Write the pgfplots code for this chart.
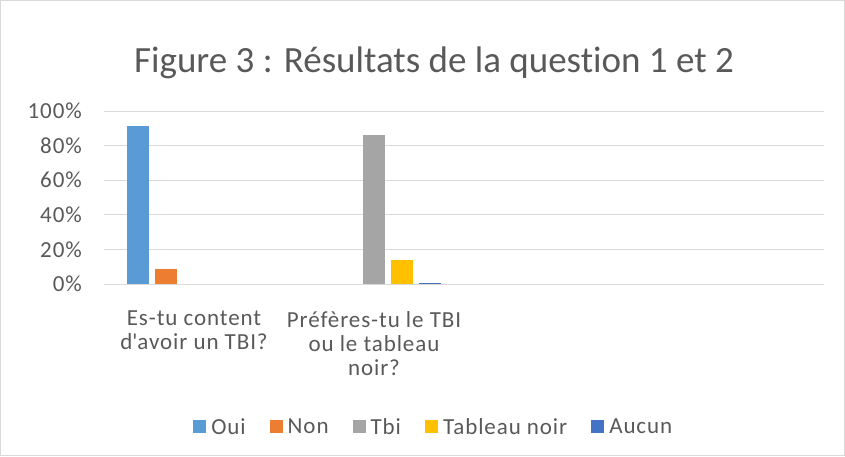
\documentclass[border=0pt]{standalone}
\usepackage{pgfplots}
\pgfplotsset{compat=1.18}
\usepackage{fontspec}
\setmainfont{Carlito}[Ligatures={TeX,NoCommon}]
\newfontfamily\lblfont{Carlito}[Ligatures={TeX,NoCommon},LetterSpace=4]
\definecolor{c1}{HTML}{5B9BD5}
\definecolor{c2}{HTML}{ED7D31}
\definecolor{c3}{HTML}{A5A5A5}
\definecolor{c4}{HTML}{FFC000}
\definecolor{c5}{HTML}{4472C4}
\definecolor{txt}{HTML}{595959}
\definecolor{grd}{HTML}{D9D9D9}
\begin{document}
\begin{tikzpicture}[x=1pt,y=1pt]
\path[draw=grd, line width=1pt] (0.5,0.5) rectangle (844.5,455.5);
\node[text=txt, anchor=base, inner sep=0pt, font=\fontsize{37}{44}\selectfont] at (434,383) {Figure 3 : Résultats de la question 1 et 2};
\begin{axis}[
  at={(104pt,172pt)}, anchor=south west,
  scale only axis, width=720pt, height=173pt,
  xmin=-0.5, xmax=3.5, ymin=0, ymax=100,
  axis line style={draw=none},
  major tick length=0pt,
  ymajorgrids, grid style={grd, line width=1pt},
  ytick={0,20,...,100},
  yticklabel={\pgfmathprintnumber{\tick}\%},
  /pgf/number format/assume math mode=true,
  yticklabel style={text=txt, font=\lblfont\fontsize{23}{24}\selectfont, anchor=east, inner sep=0pt, xshift=-22pt},
  xtick={0,1},
  xticklabels={{Es-tu content\\d\textquotesingle avoir un TBI?},{Préfères-tu le TBI\\ou le tableau\\noir?}},
  xticklabel style={align=center, text=txt, font=\lblfont\fontsize{23}{24}\selectfont, anchor=north, inner sep=0pt, yshift=-27pt},
  legend columns=5,
  legend style={draw=none, fill=none, text=txt, font=\lblfont\fontsize{23}{24}\selectfont,
    at={(0.458,-0.827)}, anchor=center,
    /tikz/every even column/.append style={column sep=22pt},
    /tikz/every odd column/.append style={column sep=3pt}},
  legend image code/.code={\fill[#1] (0pt,-6pt) rectangle (13pt,7pt);},
]
\addplot[ybar, bar width=0.125, bar shift=-0.311, fill=c1, draw=none] coordinates {(0,91.3)};
\addlegendentry{Oui}
\addplot[ybar, bar width=0.125, bar shift=-0.156, fill=c2, draw=none] coordinates {(0,8.7)};
\addlegendentry{Non}
\addplot[ybar, bar width=0.125, bar shift=0, fill=c3, draw=none] coordinates {(1,86.1)};
\addlegendentry{Tbi}
\addplot[ybar, bar width=0.125, bar shift=0.156, fill=c4, draw=none] coordinates {(1,13.9)};
\addlegendentry{Tableau noir}
\addplot[ybar, bar width=0.125, bar shift=0.311, fill=c5, draw=none] coordinates {(1,0.5)};
\addlegendentry{Aucun}
\end{axis}
\end{tikzpicture}
\end{document}
